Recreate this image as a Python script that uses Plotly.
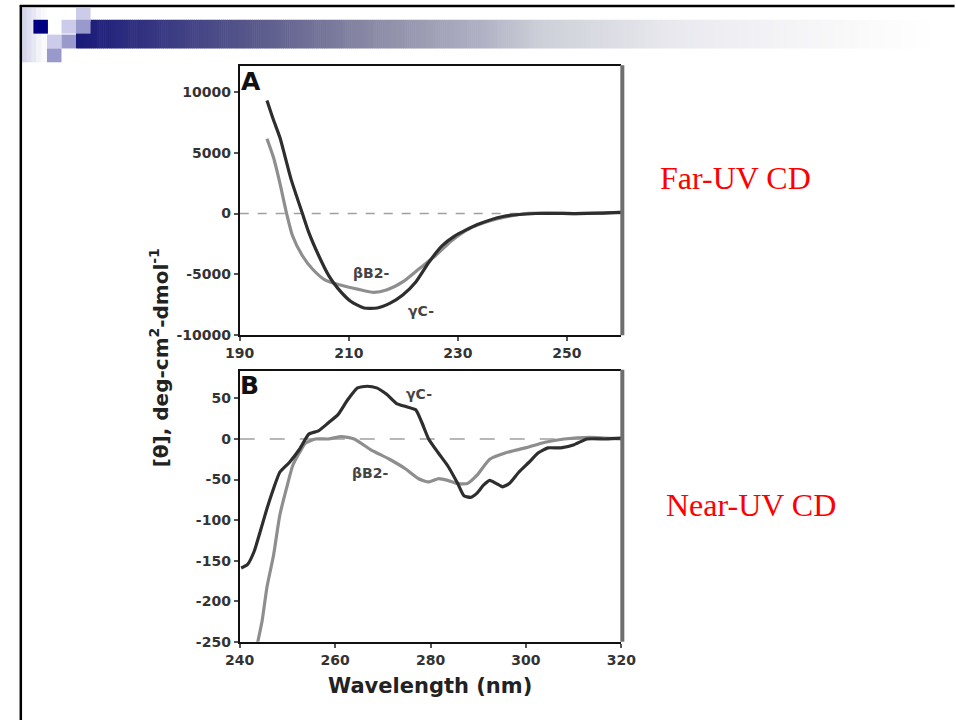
import plotly.graph_objects as go

W, H = 956, 720

# ---------------- data ----------------
# Panel A: Far-UV CD (wavelength nm, ellipticity)
farA_gC_x = [195.0, 196.2, 197.4, 199.4, 201.5, 202.7, 204.5, 206.3, 208.0, 210.4, 212.8, 215.2,
             217.6, 219.9, 222.3, 224.7, 227.1, 229.4, 233.6, 238.3, 244.3, 251.5, 256.0, 260.0]
farA_gC_y = [9290, 7680, 6200, 2850, 0, -1590, -3470, -5080, -6150, -7230, -7760, -7760,
             -7360, -6690, -5620, -4000, -2660, -1850, -910, -240, 0, 0, 30, 100]
farA_bB2_x = [195.0, 196.2, 197.4, 198.6, 199.7, 201.5, 203.3, 205.7, 208.6, 211.6, 214.6, 216.9,
              219.9, 222.9, 225.9, 228.8, 232.4, 236.6, 242.5, 251.5, 256.0, 260.0]
farA_bB2_y = [6150, 4600, 2440, 0, -1850, -3470, -4540, -5480, -5890, -6210, -6480, -6290,
              -5620, -4540, -3470, -2260, -1180, -510, 0, 0, 30, 100]

# Panel B: Near-UV CD
nearB_gC_x = [240.3, 241.6, 243.0, 244.3, 245.7, 247.1, 248.4, 250.4, 252.5, 254.5, 256.5, 258.6,
              260.6, 262.6, 264.7, 266.7, 268.7, 270.8, 272.8, 274.8, 276.9, 278.2, 279.6, 281.6,
              283.6, 285.7, 287.0, 288.4, 289.7, 291.1, 292.4, 293.8, 295.1, 296.5, 298.5, 300.6,
              302.6, 304.6, 307.3, 310.1, 312.8, 316.8, 320.0]
nearB_gC_y = [-159, -155, -139, -114, -86, -61, -41, -29, -13, 6, 10, 20,
              30, 48, 63, 65, 63, 55, 44, 40, 36, 20, 0, -17,
              -33, -55, -70, -72, -67, -57, -51, -55, -59, -55, -41, -29,
              -17, -11, -11, -7, 0, 0, 1]
nearB_bB2_x = [243.5, 244.7, 245.7, 247.1, 248.4, 249.8, 251.1, 252.5, 253.8, 255.9, 258.6, 261.3,
               264.0, 267.4, 271.4, 274.8, 277.5, 279.6, 281.6, 283.6, 285.7, 287.7, 289.7, 292.4,
               295.8, 299.9, 304.0, 308.0, 313.4, 320.0]
nearB_bB2_y = [-258, -224, -183, -143, -94, -61, -33, -17, -5, 0, 0, 3,
               0, -13, -25, -37, -49, -53, -49, -51, -55, -55, -45, -25,
               -17, -11, -4, 0, 2, 0]

A_xticks = [190, 210, 230, 250]
A_yticks = [-10000, -5000, 0, 5000, 10000]
B_xticks = [240, 260, 280, 300, 320]
B_yticks = [-250, -200, -150, -100, -50, 0, 50]

DARK = "#2e2e2e"
GRAY = "#8e8e8e"


def px(x):
    return x / W


def py(y):
    return 1 - y / H


# panel positions in pixels
A_L, A_R, A_T, A_B = 232, 626, 67, 339
B_L, B_R, B_T, B_B = 232, 626, 375, 649

fig = go.Figure()

fig.add_trace(go.Scatter(x=farA_bB2_x, y=farA_bB2_y, mode="lines", line=dict(color=GRAY, width=3.2, shape="spline", smoothing=0.6),
                         xaxis="x", yaxis="y", showlegend=False))
fig.add_trace(go.Scatter(x=farA_gC_x, y=farA_gC_y, mode="lines", line=dict(color=DARK, width=3.2, shape="spline", smoothing=0.6),
                         xaxis="x", yaxis="y", showlegend=False))
fig.add_trace(go.Scatter(x=nearB_bB2_x, y=nearB_bB2_y, mode="lines", line=dict(color=GRAY, width=3.2, shape="spline", smoothing=0.5),
                         xaxis="x2", yaxis="y2", showlegend=False, cliponaxis=True))
fig.add_trace(go.Scatter(x=nearB_gC_x, y=nearB_gC_y, mode="lines", line=dict(color=DARK, width=3.2, shape="spline", smoothing=0.5),
                         xaxis="x2", yaxis="y2", showlegend=False))

FONT = "DejaVu Sans, Liberation Sans, sans-serif"
tickfont = dict(family=FONT, size=14, color="#333", weight="bold")
axcommon = dict(showgrid=False, zeroline=False, showline=True, linecolor="#111", linewidth=2,
                ticks="outside", ticklen=4, tickcolor="#555", tickwidth=1.5, tickfont=tickfont)


def lab(vals):
    return [str(v).replace("\u2212", "-") for v in vals]


fig.update_layout(
    width=W, height=H,
    margin=dict(l=0, r=0, t=0, b=0),
    paper_bgcolor="white", plot_bgcolor="white",
    xaxis=dict(domain=[px(A_L), px(A_R)], range=[190, 260], tickvals=A_xticks, ticktext=lab(A_xticks),
               mirror=True, anchor="y", **axcommon),
    yaxis=dict(domain=[py(A_B), py(A_T)], range=[-10000, 12100], tickvals=A_yticks,
               ticktext=lab(A_yticks), anchor="x", **axcommon),
    xaxis2=dict(domain=[px(B_L), px(B_R)], range=[240, 320], tickvals=B_xticks, ticktext=lab(B_xticks),
                mirror=True, anchor="y2", **axcommon),
    yaxis2=dict(domain=[py(B_B), py(B_T)], range=[-250, 84], tickvals=B_yticks, ticktext=lab(B_yticks),
                anchor="x2", **axcommon),
)

shapes = []
# zero lines
shapes.append(dict(type="line", xref="x", yref="y", x0=190, x1=260, y0=0, y1=0,
                   line=dict(color="#a0a0a0", width=1.5, dash="dash"), layer="below"))
shapes.append(dict(type="line", xref="x2", yref="y2", x0=240, x1=320, y0=0, y1=0,
                   line=dict(color="#a0a0a0", width=1.5, dash="longdash"), layer="below"))
# right gray edges of frames
for (L, R, T, B) in [(A_L, A_R, A_T, A_B), (B_L, B_R, B_T, B_B)]:
    shapes.append(dict(type="line", xref="paper", yref="paper", x0=px(R + 1), x1=px(R + 1), y0=py(B), y1=py(T - 1),
                       line=dict(color="#6e6e6e", width=4)))

# slide decoration: gradient bar
stops = [(63, (26, 26, 122)), (250, (90, 90, 140)), (367, (138, 138, 165)), (480, (176, 176, 196)),
         (543, (205, 208, 216)), (676, (232, 232, 238)), (776, (242, 242, 246)), (876, (250, 250, 250)),
         (952, (255, 255, 255))]


def col_at(x):
    for (x0, c0), (x1, c1) in zip(stops[:-1], stops[1:]):
        if x0 <= x <= x1:
            t = (x - x0) / (x1 - x0)
            return "rgb(%d,%d,%d)" % tuple(round(a + (b - a) * t) for a, b in zip(c0, c1))
    return "rgb(255,255,255)"


step = 2
xx = 63
while xx < 952:
    x2 = min(xx + step, 952)
    shapes.append(dict(type="rect", xref="paper", yref="paper", x0=px(xx), x1=px(x2 + 0.6), y0=py(49), y1=py(20),
                       fillcolor=col_at((xx + x2) / 2), line=dict(width=0), layer="below"))
    xx = x2

# light gradient column
for i, c in enumerate(["#d4d4ea", "#dedef0", "#e8e8f4", "#f2f2f8", "#fafafc"]):
    shapes.append(dict(type="rect", xref="paper", yref="paper", x0=px(7 + i * 5), x1=px(12.5 + i * 5), y0=py(63), y1=py(8),
                       fillcolor=c, line=dict(width=0), layer="below"))
# white gaps
shapes.append(dict(type="rect", xref="paper", yref="paper", x0=px(34), x1=px(48), y0=py(35), y1=py(8),
                   fillcolor="white", line=dict(width=0), layer="below"))
shapes.append(dict(type="rect", xref="paper", yref="paper", x0=px(48), x1=px(63), y0=py(20), y1=py(8),
                   fillcolor="white", line=dict(width=0), layer="below"))
# squares
sq = [((19, 20), "#000080"),
      ((48, 20), "#ccccea"), ((63, 8), "#ccccea"), ((33, 35), "#ccccea"),
      ((63, 20), "#9999cc"), ((48, 35), "#9999cc"), ((33, 49), "#9999cc")]
for (x0, y0), c in sq:
    shapes.append(dict(type="rect", xref="paper", yref="paper", x0=px(x0), x1=px(x0 + 15), y0=py(y0 + 14), y1=py(y0),
                       fillcolor=c, line=dict(width=0), layer="below"))

# slide border lines
shapes.append(dict(type="line", xref="paper", yref="paper", x0=px(5), x1=px(970), y0=py(6), y1=py(6),
                   line=dict(color="black", width=2.5)))
shapes.append(dict(type="line", xref="paper", yref="paper", x0=px(6), x1=px(6), y0=py(730), y1=py(5),
                   line=dict(color="black", width=2.5)))

fig.update_layout(shapes=shapes)

bold = dict(family=FONT, weight="bold")
SERIF = "Liberation Serif, Times New Roman, serif"
ann = [
    dict(x=px(244), y=py(82), text="A", font=dict(size=25, color="#111", **bold)),
    dict(x=px(242), y=py(390), text="B", font=dict(size=25, color="#111", **bold)),
    dict(x=214.0, y=-4900, xref="x", yref="y", text="βB2-", font=dict(size=14, color="#444", **bold)),
    dict(x=223.3, y=-8000, xref="x", yref="y", text="γC-", font=dict(size=14, color="#444", **bold)),
    dict(x=277.5, y=55, xref="x2", yref="y2", text="γC-", font=dict(size=14, color="#444", **bold)),
    dict(x=267.3, y=-42, xref="x2", yref="y2", text="βB2-", font=dict(size=14, color="#444", **bold)),
    dict(x=px(149), y=py(362), text="[θ], deg-cm<sup>2</sup>-dmol<sup>-1</sup>", textangle=-90,
         font=dict(size=20, color="#222", **bold)),
    dict(x=px(428), y=py(694), text="Wavelength (nm)", font=dict(size=21, color="#222", **bold)),
    dict(x=px(744), y=py(180), text="Far-UV CD", font=dict(family=SERIF, size=32, color="#ff0000")),
    dict(x=px(760), y=py(511), text="Near-UV CD", font=dict(family=SERIF, size=32, color="#ff0000")),
]
for a in ann:
    a.setdefault("xref", "paper")
    a.setdefault("yref", "paper")
    a.update(showarrow=False, xanchor="center", yanchor="middle")
fig.update_layout(annotations=ann)

fig.write_html("out.html")
